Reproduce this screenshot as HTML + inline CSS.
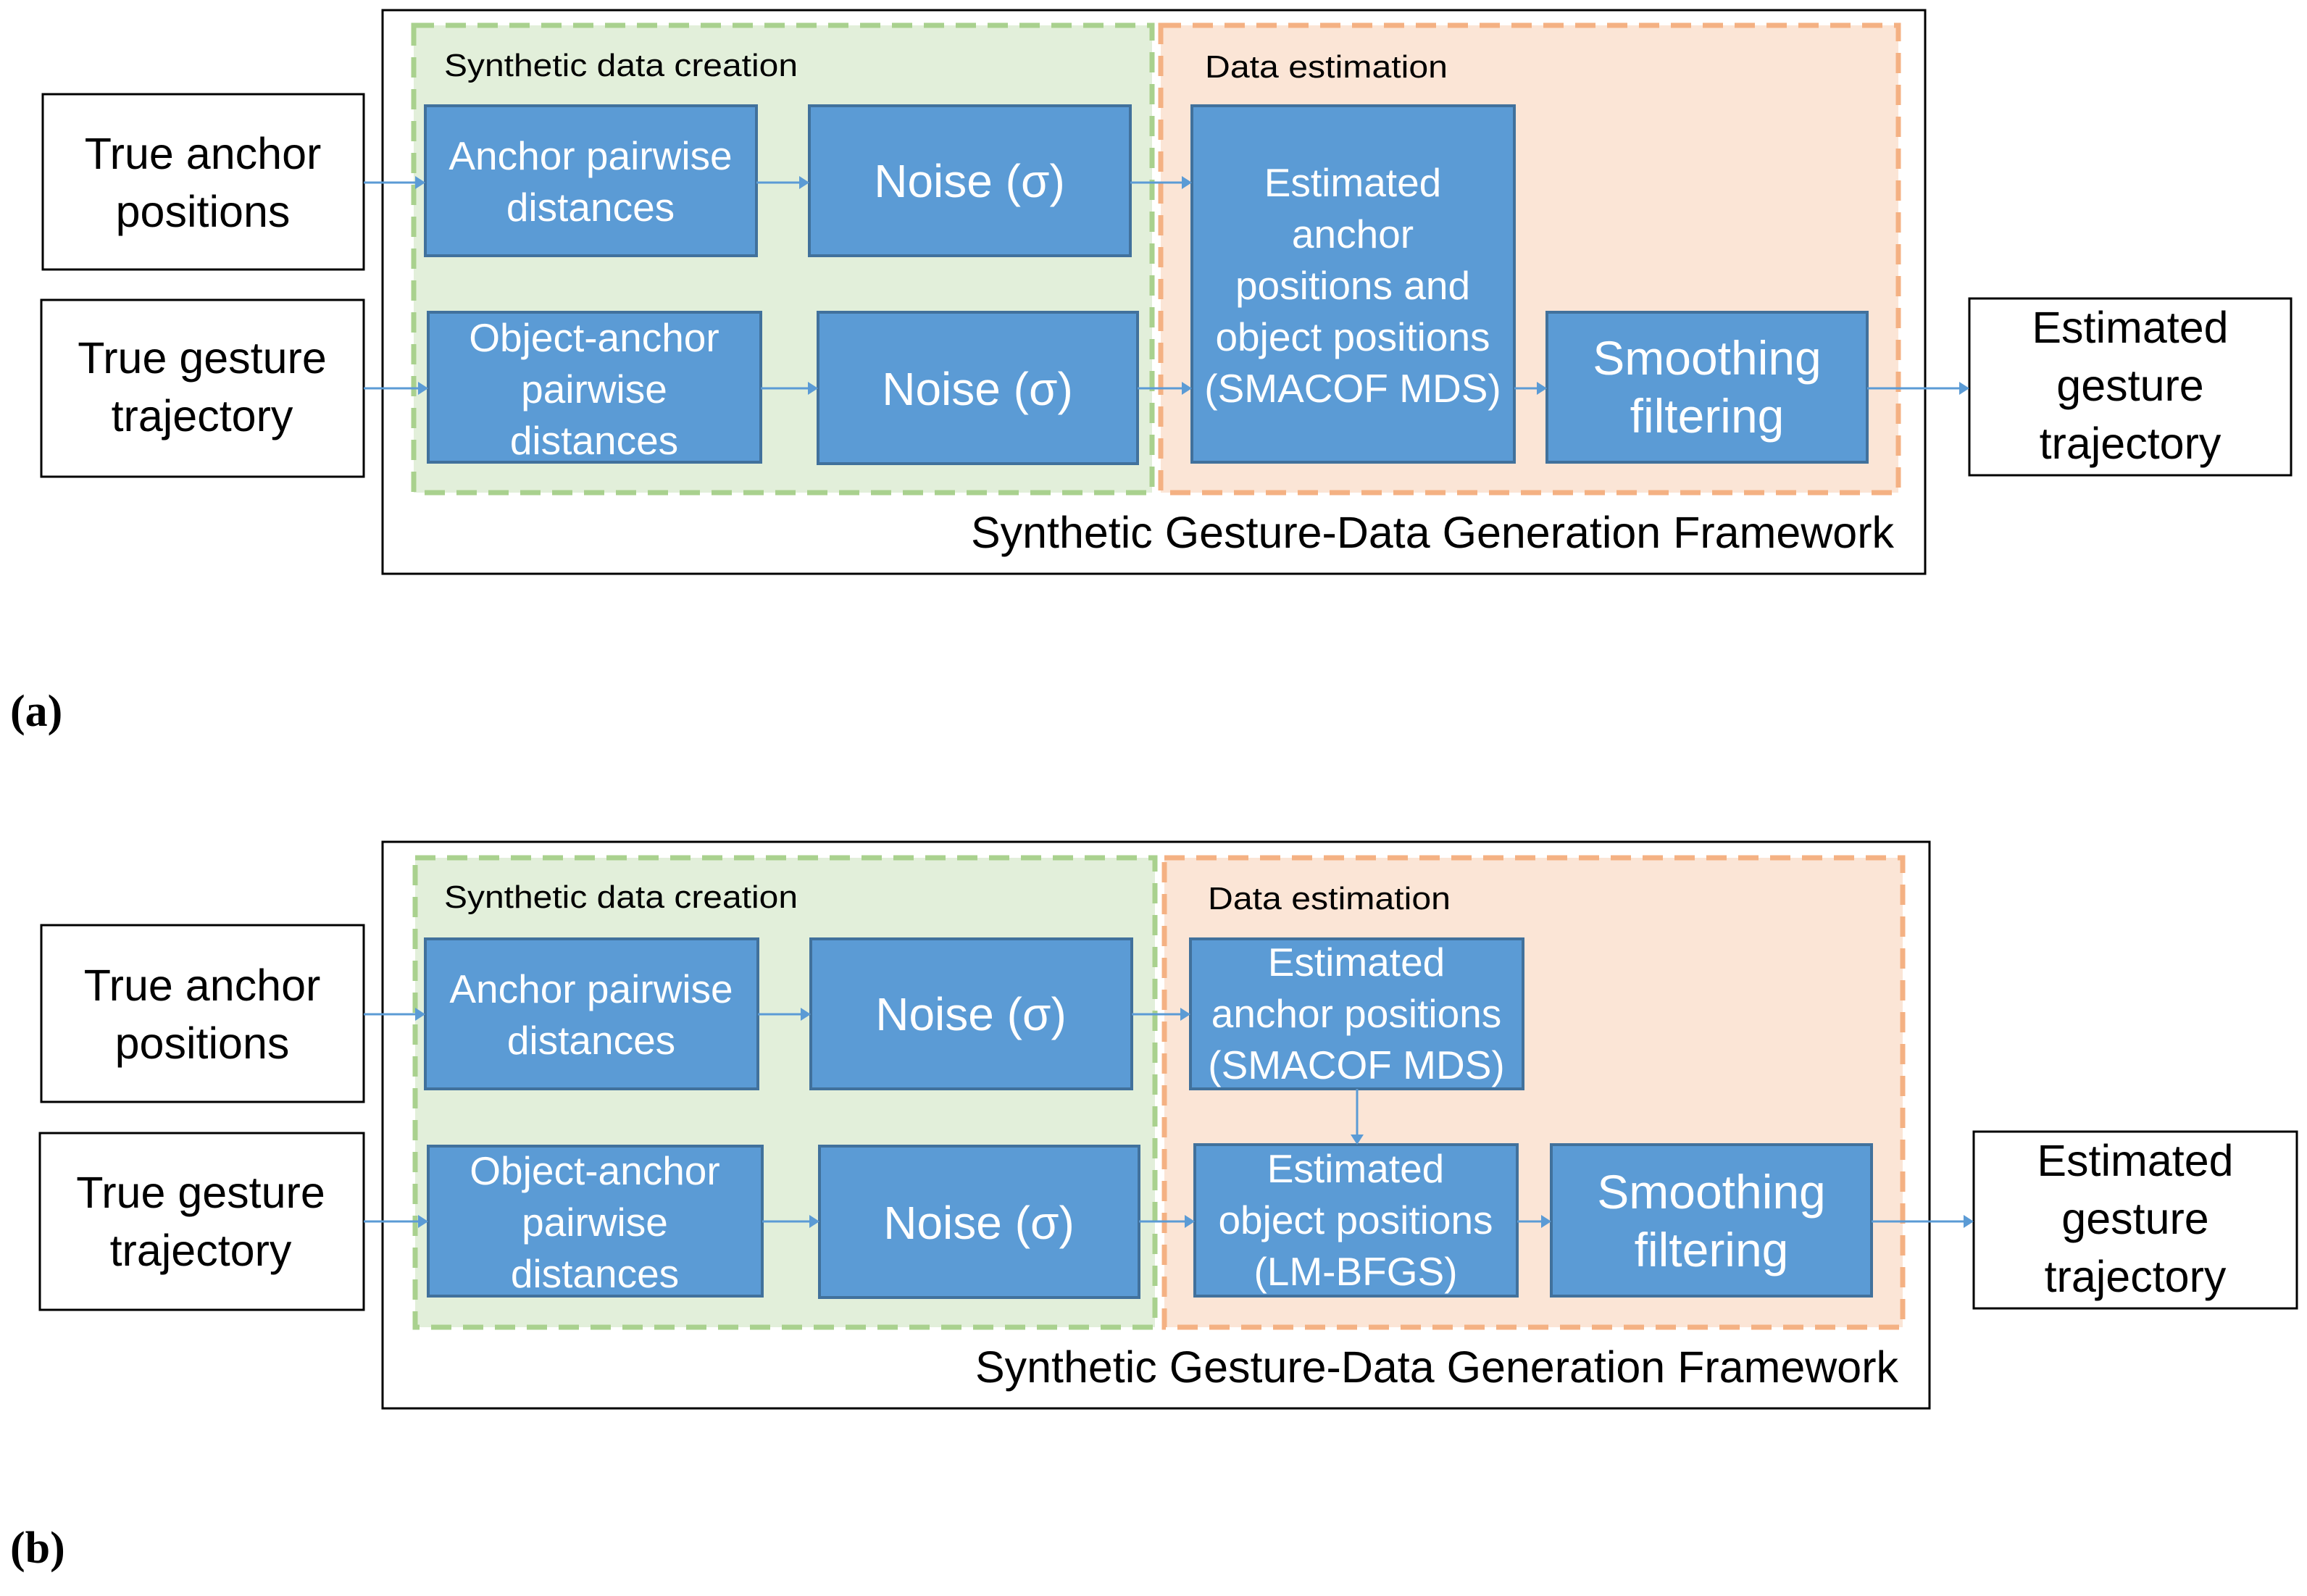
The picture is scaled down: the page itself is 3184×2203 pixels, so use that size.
<!DOCTYPE html>
<html><head><meta charset="utf-8"><style>
html,body{margin:0;padding:0;background:#fff}
svg{display:block}
.w,.k,.s{font-family:"Liberation Sans",sans-serif}
.w{fill:#fff;font-size:55px}
.k{fill:#000;font-size:61px}
.s{fill:#000;font-size:44px}
.n{font-size:64px}
.sm{font-size:66px}
.bl{fill:#5B9BD5;stroke:#41719C;stroke-width:4}
.wb{fill:#fff;stroke:#000;stroke-width:3}
.ar{stroke:#5B9BD5;stroke-width:3;fill:none}
.lab{font-family:"Liberation Serif",serif;font-size:62px;font-weight:bold}
</style></head><body>
<svg width="3184" height="2203" viewBox="0 0 3184 2203" xmlns="http://www.w3.org/2000/svg">
<!-- PANEL A -->
<rect x="528" y="14" width="2129" height="778" fill="#fff" stroke="#000" stroke-width="3"/>
<rect x="571" y="35" width="1019" height="645" fill="#E2EFDA" stroke="#A9D18E" stroke-width="7" stroke-dasharray="28,16"/>
<rect x="1602" y="35" width="1018" height="645" fill="#FBE5D6" stroke="#F4B183" stroke-width="7" stroke-dasharray="28,16"/>
<text class="s" x="613" y="105" textLength="488" lengthAdjust="spacingAndGlyphs">Synthetic data creation</text>
<text class="s" x="1663" y="107" textLength="335" lengthAdjust="spacingAndGlyphs">Data estimation</text>
<rect class="wb" x="59" y="130" width="443" height="242"/>
<text class="k" x="280" y="233" text-anchor="middle">True anchor</text>
<text class="k" x="280" y="313" text-anchor="middle">positions</text>
<rect class="wb" x="57" y="414" width="445" height="244"/>
<text class="k" x="279" y="515" text-anchor="middle">True gesture</text>
<text class="k" x="279" y="595" text-anchor="middle">trajectory</text>
<rect class="bl" x="587" y="146" width="457" height="207"/>
<text class="w" x="815" y="234" text-anchor="middle">Anchor pairwise</text>
<text class="w" x="815" y="305" text-anchor="middle">distances</text>
<rect class="bl" x="1117" y="146" width="443" height="207"/>
<text class="w n" x="1338" y="272" text-anchor="middle">Noise (σ)</text>
<rect class="bl" x="591" y="431" width="459" height="207"/>
<text class="w" x="820" y="485" text-anchor="middle">Object-anchor</text>
<text class="w" x="820" y="556" text-anchor="middle">pairwise</text>
<text class="w" x="820" y="627" text-anchor="middle">distances</text>
<rect class="bl" x="1129" y="431" width="441" height="209"/>
<text class="w n" x="1349" y="559" text-anchor="middle">Noise (σ)</text>
<rect class="bl" x="1645" y="146" width="445" height="492"/>
<text class="w" x="1867" y="271" text-anchor="middle">Estimated</text>
<text class="w" x="1867" y="342" text-anchor="middle">anchor</text>
<text class="w" x="1867" y="413" text-anchor="middle">positions and</text>
<text class="w" x="1867" y="484" text-anchor="middle" font-size="52">object positions</text>
<text class="w" x="1867" y="555" text-anchor="middle" font-size="52">(SMACOF MDS)</text>
<rect class="bl" x="2135" y="431" width="442" height="207"/>
<text class="w sm" x="2356" y="517" text-anchor="middle">Smoothing</text>
<text class="w sm" x="2356" y="597" text-anchor="middle">filtering</text>
<rect class="wb" x="2718" y="412" width="444" height="244"/>
<text class="k" x="2940" y="473" text-anchor="middle">Estimated</text>
<text class="k" x="2940" y="553" text-anchor="middle">gesture</text>
<text class="k" x="2940" y="633" text-anchor="middle">trajectory</text>
<text class="k" x="2614" y="756" text-anchor="end" textLength="1274" lengthAdjust="spacingAndGlyphs" font-size="62">Synthetic Gesture-Data Generation Framework</text>
<text class="lab" x="14" y="1002">(a)</text>
<g class="ar">
<line x1="502" y1="252" x2="575" y2="252"/><line x1="1044" y1="252" x2="1105" y2="252"/>
<line x1="1560" y1="252" x2="1633" y2="252"/><line x1="502" y1="536" x2="579" y2="536"/>
<line x1="1050" y1="536" x2="1117" y2="536"/><line x1="1570" y1="536" x2="1633" y2="536"/>
<line x1="2090" y1="536" x2="2123" y2="536"/><line x1="2577" y1="536" x2="2706" y2="536"/>
</g>
<g fill="#5B9BD5">
<path d="M587 252l-14-9v18z"/><path d="M1117 252l-14-9v18z"/><path d="M1645 252l-14-9v18z"/>
<path d="M591 536l-14-9v18z"/><path d="M1129 536l-14-9v18z"/><path d="M1645 536l-14-9v18z"/>
<path d="M2135 536l-14-9v18z"/><path d="M2718 536l-14-9v18z"/>
</g>
<!-- PANEL B -->
<rect x="528" y="1162" width="2135" height="782" fill="#fff" stroke="#000" stroke-width="3"/>
<rect x="573" y="1184" width="1021" height="648" fill="#E2EFDA" stroke="#A9D18E" stroke-width="7" stroke-dasharray="28,16"/>
<rect x="1607" y="1184" width="1019" height="648" fill="#FBE5D6" stroke="#F4B183" stroke-width="7" stroke-dasharray="28,16"/>
<text class="s" x="613" y="1253" textLength="488" lengthAdjust="spacingAndGlyphs">Synthetic data creation</text>
<text class="s" x="1667" y="1255" textLength="335" lengthAdjust="spacingAndGlyphs">Data estimation</text>
<rect class="wb" x="57" y="1277" width="445" height="244"/>
<text class="k" x="279" y="1381" text-anchor="middle">True anchor</text>
<text class="k" x="279" y="1461" text-anchor="middle">positions</text>
<rect class="wb" x="55" y="1564" width="447" height="244"/>
<text class="k" x="277" y="1667" text-anchor="middle">True gesture</text>
<text class="k" x="277" y="1747" text-anchor="middle">trajectory</text>
<rect class="bl" x="587" y="1296" width="459" height="207"/>
<text class="w" x="816" y="1384" text-anchor="middle">Anchor pairwise</text>
<text class="w" x="816" y="1455" text-anchor="middle">distances</text>
<rect class="bl" x="1119" y="1296" width="443" height="207"/>
<text class="w n" x="1340" y="1422" text-anchor="middle">Noise (σ)</text>
<rect class="bl" x="591" y="1582" width="461" height="207"/>
<text class="w" x="821" y="1635" text-anchor="middle">Object-anchor</text>
<text class="w" x="821" y="1706" text-anchor="middle">pairwise</text>
<text class="w" x="821" y="1777" text-anchor="middle">distances</text>
<rect class="bl" x="1131" y="1582" width="441" height="209"/>
<text class="w n" x="1351" y="1710" text-anchor="middle">Noise (σ)</text>
<rect class="bl" x="1643" y="1296" width="459" height="207"/>
<text class="w" x="1872" y="1347" text-anchor="middle">Estimated</text>
<text class="w" x="1872" y="1418" text-anchor="middle" font-size="53">anchor positions</text>
<text class="w" x="1872" y="1489" text-anchor="middle" font-size="52">(SMACOF MDS)</text>
<rect class="bl" x="1649" y="1580" width="445" height="209"/>
<text class="w" x="1871" y="1632" text-anchor="middle">Estimated</text>
<text class="w" x="1871" y="1703" text-anchor="middle" font-size="52">object positions</text>
<text class="w" x="1871" y="1774" text-anchor="middle">(LM-BFGS)</text>
<rect class="bl" x="2141" y="1580" width="442" height="209"/>
<text class="w sm" x="2362" y="1668" text-anchor="middle">Smoothing</text>
<text class="w sm" x="2362" y="1748" text-anchor="middle">filtering</text>
<rect class="wb" x="2724" y="1562" width="446" height="244"/>
<text class="k" x="2947" y="1623" text-anchor="middle">Estimated</text>
<text class="k" x="2947" y="1703" text-anchor="middle">gesture</text>
<text class="k" x="2947" y="1783" text-anchor="middle">trajectory</text>
<text class="k" x="2620" y="1908" text-anchor="end" textLength="1274" lengthAdjust="spacingAndGlyphs" font-size="62">Synthetic Gesture-Data Generation Framework</text>
<text class="lab" x="14" y="2157">(b)</text>
<g class="ar">
<line x1="502" y1="1400" x2="575" y2="1400"/><line x1="1046" y1="1400" x2="1107" y2="1400"/>
<line x1="1562" y1="1400" x2="1631" y2="1400"/><line x1="502" y1="1686" x2="579" y2="1686"/>
<line x1="1052" y1="1686" x2="1119" y2="1686"/><line x1="1572" y1="1686" x2="1637" y2="1686"/>
<line x1="2094" y1="1686" x2="2129" y2="1686"/><line x1="2583" y1="1686" x2="2712" y2="1686"/>
<line x1="1873" y1="1503" x2="1873" y2="1568"/>
</g>
<g fill="#5B9BD5">
<path d="M587 1400l-14-9v18z"/><path d="M1119 1400l-14-9v18z"/><path d="M1643 1400l-14-9v18z"/>
<path d="M591 1686l-14-9v18z"/><path d="M1131 1686l-14-9v18z"/><path d="M1649 1686l-14-9v18z"/>
<path d="M2141 1686l-14-9v18z"/><path d="M2724 1686l-14-9v18z"/>
<path d="M1873 1580l-9-14h18z"/>
</g>
</svg>
</body></html>
